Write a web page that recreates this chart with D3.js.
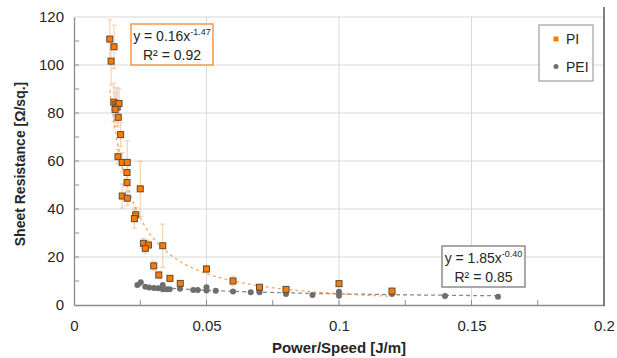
<!DOCTYPE html>
<head>
    <meta charset="utf-8">
    <script src="https://cdn.jsdelivr.net/npm/d3@7"></script>
</head>
<style>
body {
  margin: 0;
  font-family: "Liberation Sans", Arial, sans-serif;
  background: #fff;
}
.tick text { font-size: 15px; fill: #262626; }
</style>
<body>
    <svg id="chart"></svg>
</body>

<script>

    // PI samples (orange squares), with error bar half-heights
    var piX   = [0.0135, 0.0151, 0.0140, 0.0150, 0.0158, 0.0163, 0.0170, 0.0155,
                 0.0167, 0.0176, 0.0166, 0.0182, 0.0201, 0.0200, 0.0200, 0.0250,
                 0.0182, 0.0201, 0.0233, 0.0228, 0.0262, 0.0281, 0.0269, 0.0335,
                 0.0301, 0.0320, 0.0362, 0.0401, 0.0500, 0.0600, 0.0700, 0.0800,
                 0.1000, 0.1200];
    var piY   = [110.8, 107.6, 101.6, 84.5, 83.5, 82.5, 84.0, 81.5,
                 78.2, 71.0, 61.8, 59.4, 59.4, 55.2, 51.0, 48.4,
                 45.4, 44.5, 37.6, 36.0, 25.7, 25.0, 23.6, 24.7,
                 16.3, 12.5, 11.1, 9.0, 15.0, 10.0, 7.4, 6.5,
                 8.9, 5.8];
    var piErr = [8, 9, 10, 8, 7, 8, 6, 7,
                 4, 5, 3, 4, 9, 4, 4, 11.5,
                 5, 3, 3, 4, 2, 2, 2, 9,
                 2, 1.5, 1, 1, 1.5, 2, 1, 0.8,
                 0.8, 0.8];

    // PEI samples (gray circles)
    var peiX = [0.0239, 0.0252, 0.0269, 0.0284, 0.0302, 0.0318, 0.0335, 0.0335,
                0.0350, 0.0361, 0.0400, 0.0450, 0.0467, 0.0500, 0.0500, 0.0535,
                0.0600, 0.0667, 0.0700, 0.0800, 0.0900, 0.1000, 0.1000, 0.1200,
                0.1400, 0.1600];
    var peiY = [8.3, 9.5, 7.6, 7.3, 7.1, 7.0, 8.3, 6.6,
                6.6, 6.6, 6.8, 6.3, 6.3, 7.4, 6.0, 5.9,
                5.6, 5.3, 5.3, 4.6, 4.2, 5.5, 3.9, 4.6,
                3.8, 3.4];

    // power-law fits y = a * x^b
    var piFit  = {a: 0.16, b: -1.47, from: 0.0135, to: 0.12};
    var peiFit = {a: 1.85, b: -0.40, from: 0.0239, to: 0.16};

    var xTicks = [0, 0.05, 0.1, 0.15, 0.2];
    var yTicks = [0, 20, 40, 60, 80, 100, 120];

    var width = 617, height = 358;
    var pLeft = 74, pRight = 604, pTop = 17, pBottom = 305;

    var svg = d3.select('#chart')
        .attr('width', width)
        .attr('height', height);

    var x = d3.scaleLinear().domain([0, 0.2]).range([pLeft, pRight]);
    var y = d3.scaleLinear().domain([0, 120]).range([pBottom, pTop]);

    // gridlines
    svg.append('g').selectAll('line')
        .data(yTicks.slice(1))
        .enter().append('line')
        .attr('x1', pLeft).attr('x2', pRight)
        .attr('y1', function (d) { return y(d); })
        .attr('y2', function (d) { return y(d); })
        .style('stroke', '#d9d9d9').style('stroke-width', 1);

    svg.append('g').selectAll('line')
        .data(xTicks.slice(1))
        .enter().append('line')
        .attr('x1', function (d) { return x(d); })
        .attr('x2', function (d) { return x(d); })
        .attr('y1', pTop).attr('y2', pBottom)
        .style('stroke', '#d9d9d9').style('stroke-width', 1);

    // axes: labels from d3 axes, small inward ticks every half step
    var xAxis = svg.append('g')
        .attr('transform', 'translate(0,' + pBottom + ')')
        .call(d3.axisBottom(x).tickValues(xTicks).tickSize(0).tickPadding(15)
              .tickFormat(function (d) { return d === 0 ? '0' : String(+d.toFixed(2)); }));
    xAxis.select('.domain').style('stroke', '#8c8c8c').style('stroke-width', 1.3);

    var yAxis = svg.append('g')
        .attr('transform', 'translate(' + pLeft + ',0)')
        .call(d3.axisLeft(y).tickValues(yTicks).tickSize(0).tickPadding(10));
    yAxis.select('.domain').style('stroke', '#8c8c8c').style('stroke-width', 1.3);

    svg.append('g').selectAll('line')
        .data(d3.range(0.025, 0.2, 0.025))
        .enter().append('line')
        .attr('x1', function (d) { return x(d); })
        .attr('x2', function (d) { return x(d); })
        .attr('y1', pBottom).attr('y2', pBottom - 5)
        .style('stroke', '#8c8c8c');

    svg.append('g').selectAll('line')
        .data(d3.range(10, 120, 10))
        .enter().append('line')
        .attr('x1', pLeft).attr('x2', pLeft + 5)
        .attr('y1', function (d) { return y(d); })
        .attr('y2', function (d) { return y(d); })
        .style('stroke', '#8c8c8c');

    // right border
    svg.append('line')
        .attr('x1', pRight).attr('x2', pRight)
        .attr('y1', pTop - 10).attr('y2', pBottom + 1)
        .style('stroke', '#595959').style('stroke-width', 1.5);

    // fitted curves
    function fitPoints(f) {
        var n = 80, pts = [];
        for (var i = 0; i <= n; i++) {
            var v = f.from * Math.pow(f.to / f.from, i / n);
            pts.push([v, f.a * Math.pow(v, f.b)]);
        }
        return pts;
    }
    var line = d3.line()
        .x(function (d) { return x(d[0]); })
        .y(function (d) { return y(d[1]); });

    svg.append('path')
        .attr('d', line(fitPoints(peiFit)))
        .style('fill', 'none').style('stroke', '#8a8a8a')
        .style('stroke-width', 1.3).style('stroke-dasharray', '4,3');

    svg.append('path')
        .attr('d', line(fitPoints(piFit)))
        .style('fill', 'none').style('stroke', '#f79646')
        .style('stroke-width', 1.3).style('stroke-dasharray', '3,3')
        .style('opacity', 0.85);

    // PI data
    var pi = piX.map(function (v, i) { return {x: v, y: piY[i], e: piErr[i]}; });
    var peiData = peiX.map(function (v, i) { return {x: v, y: peiY[i]}; });

    var errG = svg.append('g').style('stroke', '#f79646').style('opacity', 0.5);
    errG.selectAll('line.bar').data(pi).enter().append('line')
        .attr('x1', function (d) { return x(d.x); })
        .attr('x2', function (d) { return x(d.x); })
        .attr('y1', function (d) { return y(d.y + d.e); })
        .attr('y2', function (d) { return y(d.y - d.e); });
    errG.selectAll('line.cap1').data(pi).enter().append('line')
        .attr('x1', function (d) { return x(d.x) - 2.5; })
        .attr('x2', function (d) { return x(d.x) + 2.5; })
        .attr('y1', function (d) { return y(d.y + d.e); })
        .attr('y2', function (d) { return y(d.y + d.e); });
    errG.selectAll('line.cap2').data(pi).enter().append('line')
        .attr('x1', function (d) { return x(d.x) - 2.5; })
        .attr('x2', function (d) { return x(d.x) + 2.5; })
        .attr('y1', function (d) { return y(d.y - d.e); })
        .attr('y2', function (d) { return y(d.y - d.e); });

    // PEI circles
    svg.append('g').selectAll('circle')
        .data(peiData).enter().append('circle')
        .attr('cx', function (d) { return x(d.x); })
        .attr('cy', function (d) { return y(d.y); })
        .attr('r', 3)
        .style('fill', '#6e6e6e');

    // PI squares
    svg.append('g').selectAll('rect')
        .data(pi).enter().append('rect')
        .attr('x', function (d) { return x(d.x) - 3; })
        .attr('y', function (d) { return y(d.y) - 3; })
        .attr('width', 6).attr('height', 6)
        .style('fill', '#ff7a00')
        .style('stroke', '#5a4a3a').style('stroke-width', 1);

    // equation boxes
    function eqBox(x0, y0, w, h, stroke, coef, expo, r2) {
        var g = svg.append('g');
        g.append('rect')
            .attr('x', x0).attr('y', y0).attr('width', w).attr('height', h)
            .style('fill', '#fff').style('stroke', stroke).style('stroke-width', 1.5);
        var t = g.append('text')
            .attr('x', x0 + w / 2).attr('y', y0 + 17)
            .attr('text-anchor', 'middle')
            .style('font-size', '14px').style('fill', '#262626');
        t.append('tspan').text('y = ' + coef + 'x');
        t.append('tspan').attr('dy', -6).style('font-size', '9px').text(expo);
        g.append('text')
            .attr('x', x0 + w / 2).attr('y', y0 + 36)
            .attr('text-anchor', 'middle')
            .style('font-size', '14px').style('fill', '#262626')
            .text('R² = ' + r2);
    }
    eqBox(131, 24, 82, 41, '#f79646', '0.16', '-1.47', '0.92');
    eqBox(442, 246, 83, 41, '#8c8c8c', '1.85', '-0.40', '0.85');

    // legend
    var leg = svg.append('g');
    leg.append('rect')
        .attr('x', 539).attr('y', 25).attr('width', 54).attr('height', 56)
        .style('fill', '#fff').style('stroke', '#8c8c8c').style('stroke-width', 1);
    leg.append('rect')
        .attr('x', 553.5).attr('y', 36.5).attr('width', 5).attr('height', 5)
        .style('fill', '#ff7a00');
    leg.append('circle')
        .attr('cx', 556).attr('cy', 66.5).attr('r', 2.5)
        .style('fill', '#6e6e6e');
    leg.append('text').attr('x', 566).attr('y', 44)
        .style('font-size', '14px').style('fill', '#262626').text('PI');
    leg.append('text').attr('x', 566).attr('y', 71.5)
        .style('font-size', '14px').style('fill', '#262626').text('PEI');

    // axis titles
    svg.append('text')
        .attr('x', (pLeft + pRight) / 2).attr('y', 353)
        .attr('text-anchor', 'middle')
        .style('font-size', '15px').style('font-weight', 'bold').style('fill', '#262626')
        .text('Power/Speed [J/m]');

    svg.append('text')
        .attr('transform', 'translate(25,' + 164 + ')rotate(-90)')
        .attr('text-anchor', 'middle')
        .style('font-size', '14px').style('font-weight', 'bold').style('fill', '#262626')
        .text('Sheet Resistance [Ω/sq.]');

</script>
